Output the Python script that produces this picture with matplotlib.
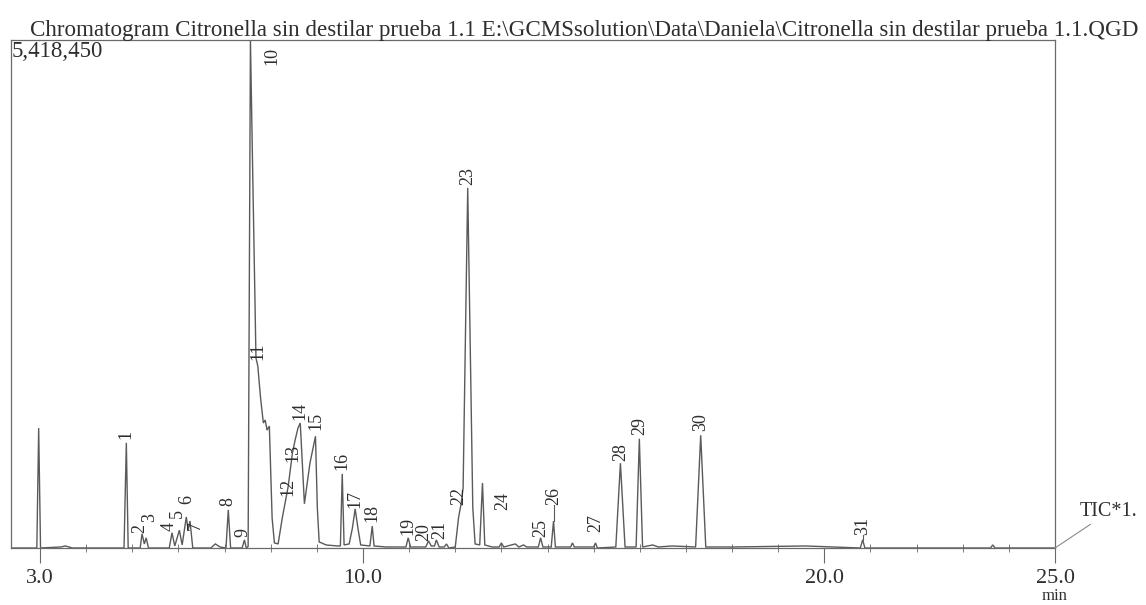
import numpy as np
import matplotlib
matplotlib.use("Agg")
import matplotlib.pyplot as plt

# TIC trace, retention time (min) and relative intensity (% of 5,418,450)
trace_time = [2.36, 2.93, 2.97, 3.01, 3.45, 3.55, 3.70, 4.82, 4.87, 4.91,
              5.17, 5.21, 5.26, 5.30, 5.35, 5.80, 5.86, 5.92, 6.02, 6.08,
              6.17, 6.21, 6.25, 6.31, 6.70, 6.80, 6.90, 7.03, 7.08, 7.13,
              7.38, 7.43, 7.47, 7.51, 7.56, 7.60, 7.68, 7.72, 7.78, 7.84,
              7.88, 7.92, 7.97, 8.03, 8.08, 8.16, 8.25, 8.38, 8.47, 8.53,
              8.59, 8.64, 8.68, 8.73, 8.85, 8.97, 9.01, 9.05, 9.20, 9.45,
              9.51, 9.55, 9.59, 9.70, 9.77, 9.83, 9.89, 9.95, 10.15, 10.20,
              10.24, 10.50, 10.93, 10.98, 11.03, 11.36, 11.42, 11.48, 11.55, 11.59,
              11.65, 11.76, 11.81, 11.86, 12.00, 12.07, 12.13, 12.17, 12.27, 12.38,
              12.43, 12.53, 12.59, 12.64, 12.80, 12.95, 13.00, 13.05, 13.30, 13.38,
              13.48, 13.55, 13.80, 13.85, 13.90, 14.08, 14.13, 14.17, 14.50, 14.54,
              14.58, 15.00, 15.04, 15.08, 15.48, 15.58, 15.68, 15.92, 15.99, 16.06,
              16.28, 16.40, 16.70, 17.21, 17.32, 17.43, 18.00, 19.60, 20.78, 20.83,
              20.88, 23.60, 23.65, 23.70, 25.00]
trace_int = [0.0, 0.0, 23.6, 0.0, 0.2, 0.4, 0.0, 0.0, 20.7, 0.0,
             0.0, 2.8, 0.8, 2.0, 0.0, 0.0, 3.0, 0.4, 3.5, 0.6,
             6.1, 3.5, 5.3, 0.0, 0.0, 0.8, 0.2, 0.0, 7.5, 0.0,
             0.0, 1.6, 0.0, 0.3, 100.0, 78.7, 37.4, 35.8, 29.5, 24.6,
             25.2, 23.2, 24.0, 5.9, 1.0, 0.8, 5.9, 12.2, 18.7, 21.3,
             23.6, 24.6, 17.7, 8.7, 16.7, 22.0, 7.9, 1.2, 0.6, 0.4,
             0.4, 14.6, 0.6, 0.8, 3.9, 7.7, 3.9, 0.6, 0.4, 4.3,
             0.4, 0.2, 0.2, 2.0, 0.2, 0.2, 1.4, 0.4, 0.4, 1.6,
             0.2, 0.2, 0.8, 0.0, 0.2, 5.9, 8.9, 11.8, 70.9, 7.9,
             0.8, 0.6, 12.8, 0.6, 0.2, 0.2, 1.0, 0.2, 0.8, 0.2,
             0.6, 0.2, 0.2, 2.0, 0.2, 0.2, 5.3, 0.2, 0.2, 1.0,
             0.2, 0.2, 1.0, 0.0, 0.2, 16.7, 0.2, 0.2, 21.5, 0.2,
             0.6, 0.2, 0.4, 0.2, 22.2, 0.2, 0.2, 0.4, 0.0, 1.6,
             0.0, 0.0, 0.6, 0.0, 0.0]

# peak numbers and where their labels sit (time, % for the label foot)
peak_no = [str(i) for i in range(1, 32)]
label_time = [4.87, 5.15, 5.37, 5.80, 5.98, 6.17, 6.36, 7.08, 7.40, 8.02,
              7.72, 8.38, 8.49, 8.64, 8.97, 9.55, 9.83, 10.20, 10.98, 11.31,
              11.67, 12.07, 12.27, 13.02, 13.85, 14.13, 15.04, 15.58, 15.99, 17.32,
              20.83]
label_base = [21.5, 3.0, 5.2, 3.4, 6.0, 8.6, 3.6, 8.2, 2.2, 98.6,
              37.0, 10.2, 17.0, 25.2, 23.2, 15.4, 7.9, 5.1, 2.6, 1.4,
              1.8, 8.5, 71.5, 7.5, 2.2, 8.5, 3.1, 17.2, 22.2, 23.0,
              2.6]
leaders = {"26": (5.3, 8.5), "31": (1.6, 2.6)}

full_scale = "5,418,450"
title = ("Chromatogram Citronella sin destilar prueba 1.1 "
         "E:\\GCMSsolution\\Data\\Daniela\\Citronella sin destilar prueba 1.1.QGD")

plt.rcParams["font.family"] = ["Liberation Serif", "DejaVu Serif"]
ink = "#2e2e2e"
trace_col = "#5a5a5a"

fig = plt.figure(figsize=(11.46, 6.05), dpi=100)
W, H = 1146, 605
ax = fig.add_axes([11 / W, 1 - 548 / H, 1044 / W, 508 / H])

ax.plot(trace_time, trace_int, color=trace_col, lw=1.0, solid_joinstyle="miter")
ax.set_xlim(2.37, 25.0)
ax.set_ylim(0, 100)

for n, t, yb in zip(peak_no, label_time, label_base):
    ax.text(t, yb, n, rotation=90, ha="center",
            va="top" if n == "10" else "bottom",
            fontsize=13, color=ink)
for n, (y0, y1) in leaders.items():
    t = label_time[peak_no.index(n)]
    ax.plot([t, t], [y0, y1], color=trace_col, lw=0.8)

for s in ax.spines.values():
    s.set_color("#6a6a6a")
    s.set_linewidth(0.9)

ax.set_yticks([])
ax.set_xticks([3, 10, 20, 25])
ax.set_xticklabels(["3.0", "10.0", "20.0", "25.0"])
ax.set_xticks(np.arange(3, 25.5, 1.0), minor=True)
ax.tick_params(axis="x", which="major", direction="out", length=11, width=0.8,
               color="#6a6a6a", labelsize=16, labelcolor=ink, pad=4)
ax.tick_params(axis="x", which="minor", direction="inout", length=6, width=0.7,
               color="#7a7a7a")

ax.text(0.001, 0.998, full_scale, transform=ax.transAxes, ha="left", va="top",
        fontsize=16.5, color=ink)
fig.text(30 / W, 1 - 36 / H, title, ha="left", va="baseline", fontsize=16.6,
         color=ink)
fig.text(1055 / W, 1 - 604 / H, "min", ha="center", va="bottom", fontsize=12,
         color=ink)

# TIC tag with its leader line from the end of the trace
ax.annotate("TIC*1.", xy=(25.0, 0), xycoords="data",
            xytext=(1080 / W, 1 - 512 / H), textcoords="figure fraction",
            ha="left", va="center", fontsize=14.5, color=ink,
            arrowprops=dict(arrowstyle="-", color="#8a8a8a", lw=0.8,
                            shrinkA=0, shrinkB=0),
            annotation_clip=False)

fig.savefig("out.png", dpi=100, facecolor="white")
